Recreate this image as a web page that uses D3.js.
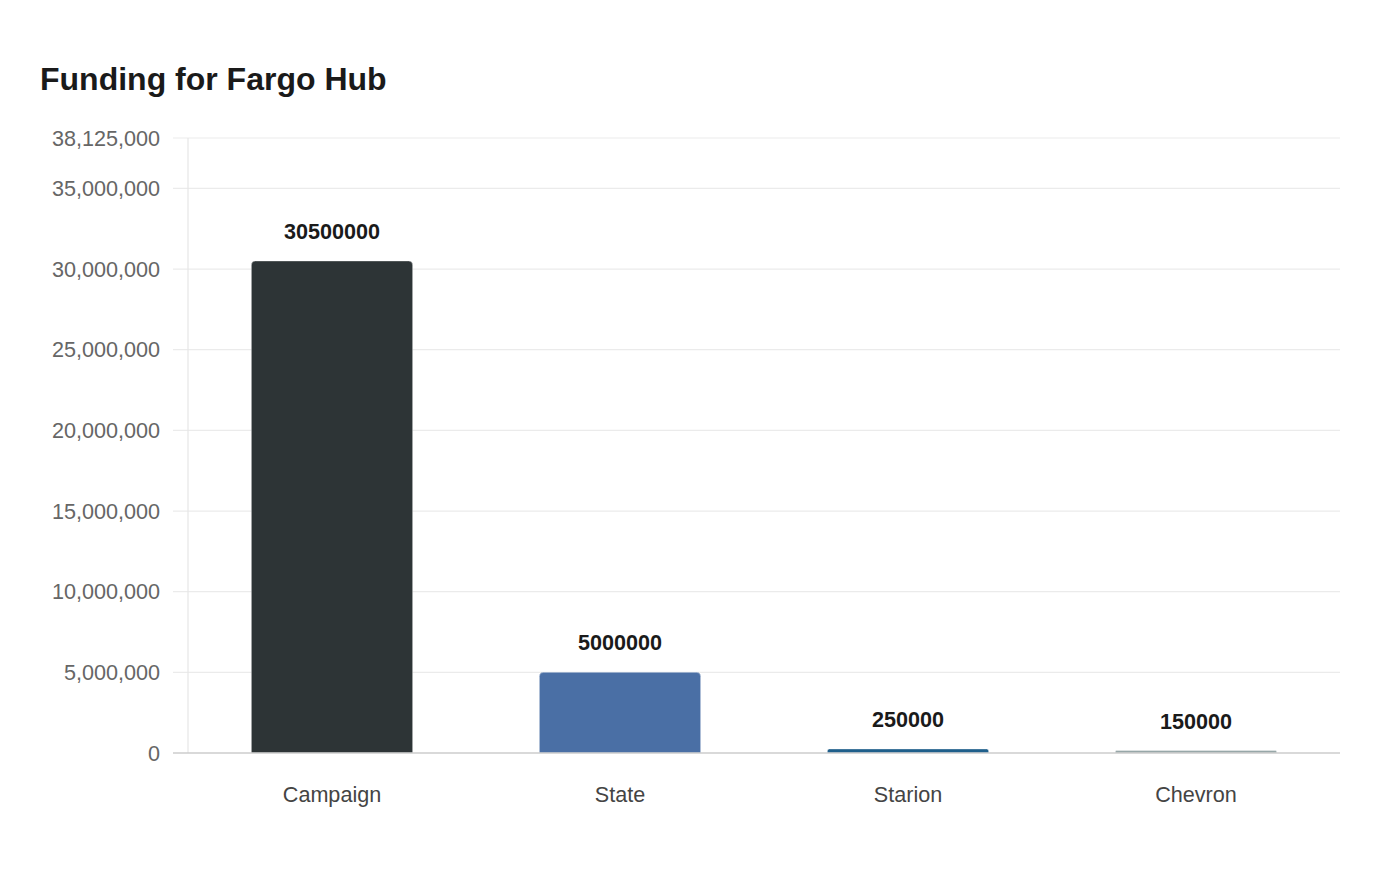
<!DOCTYPE html>
<html>
<head>
<meta charset="utf-8">
<script src="https://cdn.jsdelivr.net/npm/d3@7"></script>
<style>
  body { margin: 0; background: #fff; font-family: "Liberation Sans", Arial, sans-serif; }
</style>
</head>
<body>
<div id="container"></div>
<script>
let w = 1400;
let h = 880;

// data
let categories = ["Campaign", "State", "Starion", "Chevron"];
let values = [30500000, 5000000, 250000, 150000];
let barColors = ["#2d3436", "#4a6fa5", "#1f5f8b", "#95a5a6"];
let yTicks = [0, 5000000, 10000000, 15000000, 20000000, 25000000, 30000000, 35000000, 38125000];
let yMax = 38125000;

let plotLeft = 188, plotRight = 1340, plotTop = 138, plotBottom = 753;

let viz = d3.select("#container")
  .append("svg")
    .attr("width", w)
    .attr("height", h)
    .style("background-color", "#fff");

viz.append("text")
  .attr("x", 40)
  .attr("y", 90)
  .attr("font-size", 32)
  .attr("font-weight", "bold")
  .attr("fill", "#1a1a1a")
  .text("Funding for Fargo Hub");

let xScale = d3.scaleBand().domain(categories).range([plotLeft, plotRight]).paddingInner(0.44).paddingOuter(0.22);
let yScale = d3.scaleLinear().domain([0, yMax]).range([plotBottom, plotTop]);

// gridlines
viz.append("g").selectAll("line").data(yTicks.filter(d => d > 0)).enter()
  .append("line")
    .attr("x1", plotLeft - 15)
    .attr("x2", plotRight)
    .attr("y1", d => yScale(d))
    .attr("y2", d => yScale(d))
    .attr("stroke", "#ebebeb")
    .attr("stroke-width", 1.2);

// y axis line
viz.append("line")
  .attr("x1", plotLeft).attr("x2", plotLeft)
  .attr("y1", plotTop).attr("y2", plotBottom)
  .attr("stroke", "#e6e6e6")
  .attr("stroke-width", 1.2);

// y tick labels
viz.append("g").selectAll("text").data(yTicks).enter()
  .append("text")
    .attr("x", 160)
    .attr("y", d => yScale(d))
    .attr("dy", "0.35em")
    .attr("text-anchor", "end")
    .attr("font-size", 21.6)
    .attr("fill", "#666")
    .text(d => d3.format(",")(d));

// bars with rounded top corners
function barPath(d, i) {
  let x0 = xScale(categories[i]);
  let x1 = x0 + xScale.bandwidth();
  let y0 = yScale(d);
  let y1 = yScale(0);
  let r = Math.min(4, (y1 - y0) / 2);
  return "M" + x0 + "," + y1 +
    "L" + x0 + "," + (y0 + r) +
    "Q" + x0 + "," + y0 + " " + (x0 + r) + "," + y0 +
    "L" + (x1 - r) + "," + y0 +
    "Q" + x1 + "," + y0 + " " + x1 + "," + (y0 + r) +
    "L" + x1 + "," + y1 + "Z";
}

viz.append("g").selectAll("path").data(values).enter()
  .append("path")
    .attr("d", barPath)
    .attr("fill", (d, i) => barColors[i])
    .attr("stroke", "rgba(255,255,255,0.35)")
    .attr("stroke-width", 1);

// baseline
viz.append("line")
  .attr("x1", plotLeft - 15).attr("x2", plotRight)
  .attr("y1", plotBottom).attr("y2", plotBottom)
  .attr("stroke", "#cccccc")
  .attr("stroke-width", 1.5);

// value labels
viz.append("g").selectAll("text").data(values).enter()
  .append("text")
    .attr("x", (d, i) => xScale(categories[i]) + xScale.bandwidth() / 2)
    .attr("y", d => yScale(d) - 22)
    .attr("text-anchor", "middle")
    .attr("font-size", 21.6)
    .attr("font-weight", "bold")
    .attr("fill", "#1a1a1a")
    .text(d => d);

// category labels
viz.append("g").selectAll("text").data(categories).enter()
  .append("text")
    .attr("x", d => xScale(d) + xScale.bandwidth() / 2)
    .attr("y", 802)
    .attr("text-anchor", "middle")
    .attr("font-size", 21.6)
    .attr("fill", "#444")
    .text(d => d);
</script>
</body>
</html>
